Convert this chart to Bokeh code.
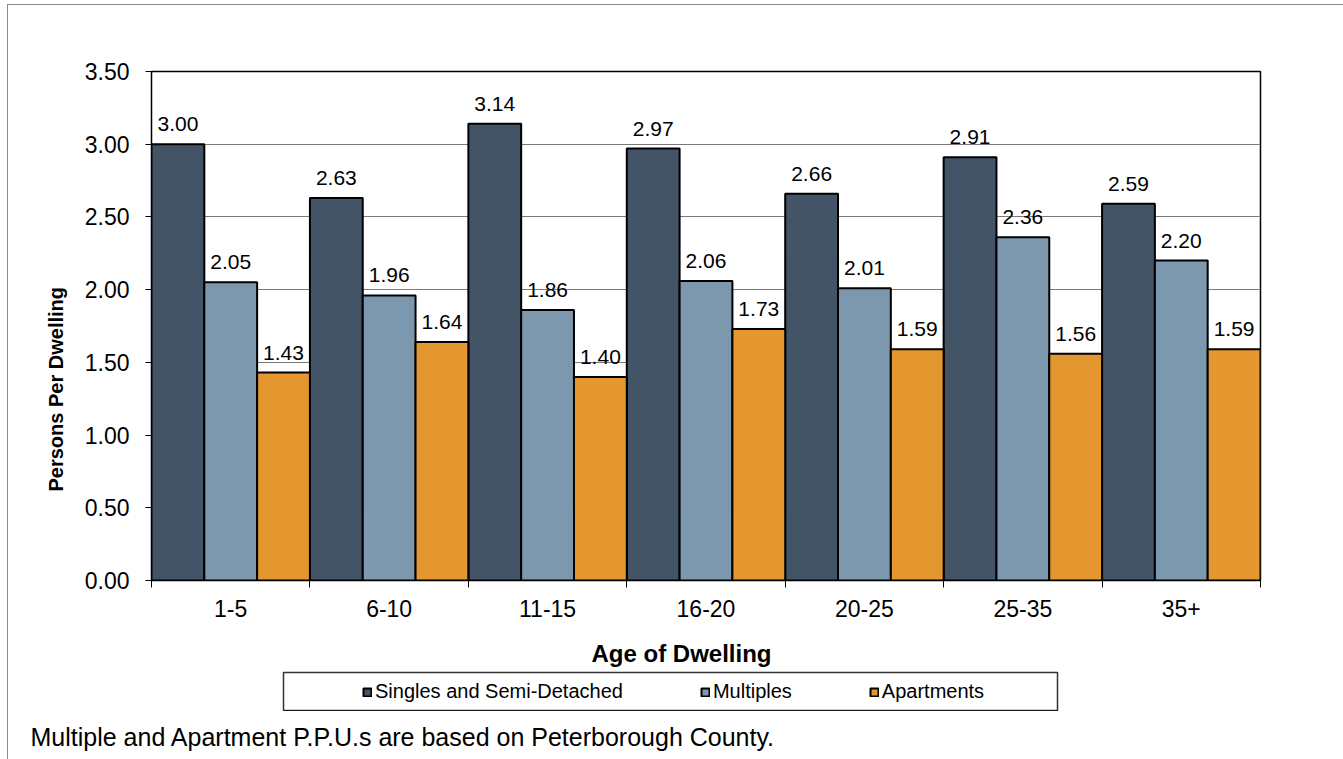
from bokeh.plotting import figure
from bokeh.layouts import column
from bokeh.models import (ColumnDataSource, Range1d, FixedTicker, PrintfTickFormatter,
                          Legend, LegendItem, Title)
from bokeh.embed import file_html
from bokeh.resources import INLINE

# ---------------- data ----------------
categories = ["1-5", "6-10", "11-15", "16-20", "20-25", "25-35", "35+"]
singles = [3.00, 2.63, 3.14, 2.97, 2.66, 2.91, 2.59]
multiples = [2.05, 1.96, 1.86, 2.06, 2.01, 2.36, 2.20]
apartments = [1.43, 1.64, 1.40, 1.73, 1.59, 1.56, 1.59]
series_names = ["Singles and Semi-Detached", "Multiples", "Apartments"]
y_ticks = [0.0, 0.5, 1.0, 1.5, 2.0, 2.5, 3.0, 3.5]

colors = ["#435466", "#7C98AE", "#E3972E"]
FONT = "Liberation Sans"

W, H = 1343, 759
OX, OY = 8, 5                      # outer border offset (page pixels)
FL, FR, FT, FB = 151, 1260, 71, 580  # plot frame (page pixels)
P_END = 634                        # bottom of the main chart block
LB_L, LB_R, LB_T, LB_B = 283, 1057, 672, 711  # legend box (page pixels)
N = len(categories)
YMAX = y_ticks[-1]

# ---------------- main chart ----------------
p = figure(width=W - OX, height=P_END - OY, output_backend="svg", toolbar_location=None,
           x_range=Range1d(0, N), y_range=Range1d(0, YMAX),
           min_border_left=FL - OX, min_border_right=W - FR,
           min_border_top=FT - OY, min_border_bottom=P_END - FB)
p.frame_align = False
p.background_fill_color = "white"
p.border_fill_color = "white"
p.outline_line_color = "black"
p.outline_line_width = 1.5

bw = 1.0 / 3
sources = []
for k, vals in enumerate([singles, multiples, apartments]):
    xs = [i + bw * (k + 0.5) for i in range(N)]
    src = ColumnDataSource(dict(x=xs, top=vals, lab=["%.2f" % v for v in vals]))
    sources.append(src)
    p.vbar(x="x", top="top", width=bw, bottom=0, source=src,
           fill_color=colors[k], line_color="black", line_width=2)
    p.text(x="x", y="top", text="lab", source=src, text_align="center",
           text_baseline="alphabetic", y_offset=-20,
           text_font={"value": FONT}, text_font_size="21px", text_color="black")

# y axis
yt = FixedTicker(ticks=y_ticks)
p.yaxis.ticker = yt
p.yaxis.formatter = PrintfTickFormatter(format="%.2f")
p.yaxis.major_tick_out = 6
p.yaxis.major_tick_in = 0
p.yaxis.minor_tick_line_color = None
p.yaxis.axis_line_color = "black"
p.yaxis.major_tick_line_color = "black"
p.yaxis.major_label_text_font = FONT
p.yaxis.major_label_text_font_size = "23px"
p.yaxis.major_label_text_color = "black"
p.yaxis.major_label_standoff = 16

# x axis
centers = [i + 0.5 for i in range(N)]
xt = FixedTicker(ticks=centers, minor_ticks=list(range(N + 1)))
p.xaxis.ticker = xt
p.xaxis.major_label_overrides = {c: lab for c, lab in zip(centers, categories)}
p.xaxis.major_tick_out = 0
p.xaxis.major_tick_in = 0
p.xaxis.minor_tick_out = 7
p.xaxis.minor_tick_in = 0
p.xaxis.minor_tick_line_color = "black"
p.xaxis.axis_line_color = "black"
p.xaxis.major_label_text_font = FONT
p.xaxis.major_label_text_font_size = "23px"
p.xaxis.major_label_text_color = "black"
p.xaxis.major_label_standoff = 12

p.xgrid.visible = False
p.ygrid.ticker = yt
p.ygrid.grid_line_color = "#7a7a7a"
p.ygrid.grid_line_width = 1

p.add_layout(Title(text="Persons Per Dwelling", align="left", offset=FB - 491,
                   vertical_align="bottom", standoff=30, text_font=FONT,
                   text_font_size="20px", text_font_style="bold", text_color="black"), "left")

# ---------------- x title + legend strip ----------------
q = figure(width=W - OX, height=LB_B - P_END, output_backend="svg", toolbar_location=None,
           x_range=Range1d(0, N), y_range=Range1d(10 * YMAX, 11 * YMAX),
           x_axis_location=None, y_axis_location=None,
           min_border_left=LB_L - OX, min_border_right=W - LB_R,
           min_border_top=LB_T - P_END, min_border_bottom=0)
q.frame_align = False
q.grid.visible = False
q.outline_line_color = "#333333"
q.outline_line_width = 1.5
q.background_fill_color = "white"
q.border_fill_color = "white"

q.add_layout(Title(text="Age of Dwelling", align="left", offset=591 - LB_L,
                   vertical_align="middle", standoff=9, text_font=FONT,
                   text_font_size="24px", text_font_style="bold", text_color="black"), "above")

items = []
for k, name in enumerate(series_names):
    # same data as the chart; it lies below this strip's y-range, so only the legend swatch shows
    r = q.vbar(x="x", top="top", width=bw, bottom=0, source=sources[k],
               fill_color=colors[k], line_color="black", line_width=2)
    items.append(LegendItem(label=name, renderers=[r]))
legend = Legend(items=items, orientation="horizontal", location=(362 - LB_L, 8),
                padding=0, margin=0, spacing=77, glyph_width=10, glyph_height=10,
                label_standoff=3, label_text_font=FONT, label_text_font_size="20px",
                label_text_color="black",
                label_height=21, border_line_alpha=0, background_fill_alpha=0)
q.add_layout(legend, "center")

# ---------------- footnote ----------------
f = figure(width=W - OX, height=H - LB_B, output_backend="svg", toolbar_location=None,
           x_range=Range1d(0, 1), y_range=Range1d(0, 1),
           x_axis_location=None, y_axis_location=None,
           min_border_left=30 - OX, min_border_right=10,
           min_border_top=H - LB_B - 2, min_border_bottom=0)
f.frame_align = False
f.grid.visible = False
f.outline_line_color = None
f.background_fill_color = "white"
f.border_fill_color = "white"
f.add_layout(Title(text="Multiple and Apartment P.P.U.s are based on Peterborough County.",
                   align="left", offset=0, vertical_align="middle", standoff=11,
                   text_font=FONT, text_font_size="25px", text_font_style="normal",
                   text_color="black"), "above")

layout = column(p, q, f, spacing=0, margin=(OY - 1, 0, 0, OX - 1),
                styles={"border-top": "1px solid #8a8a8a", "border-left": "1px solid #8a8a8a"})

open("out.html", "w").write(file_html(layout, INLINE))
